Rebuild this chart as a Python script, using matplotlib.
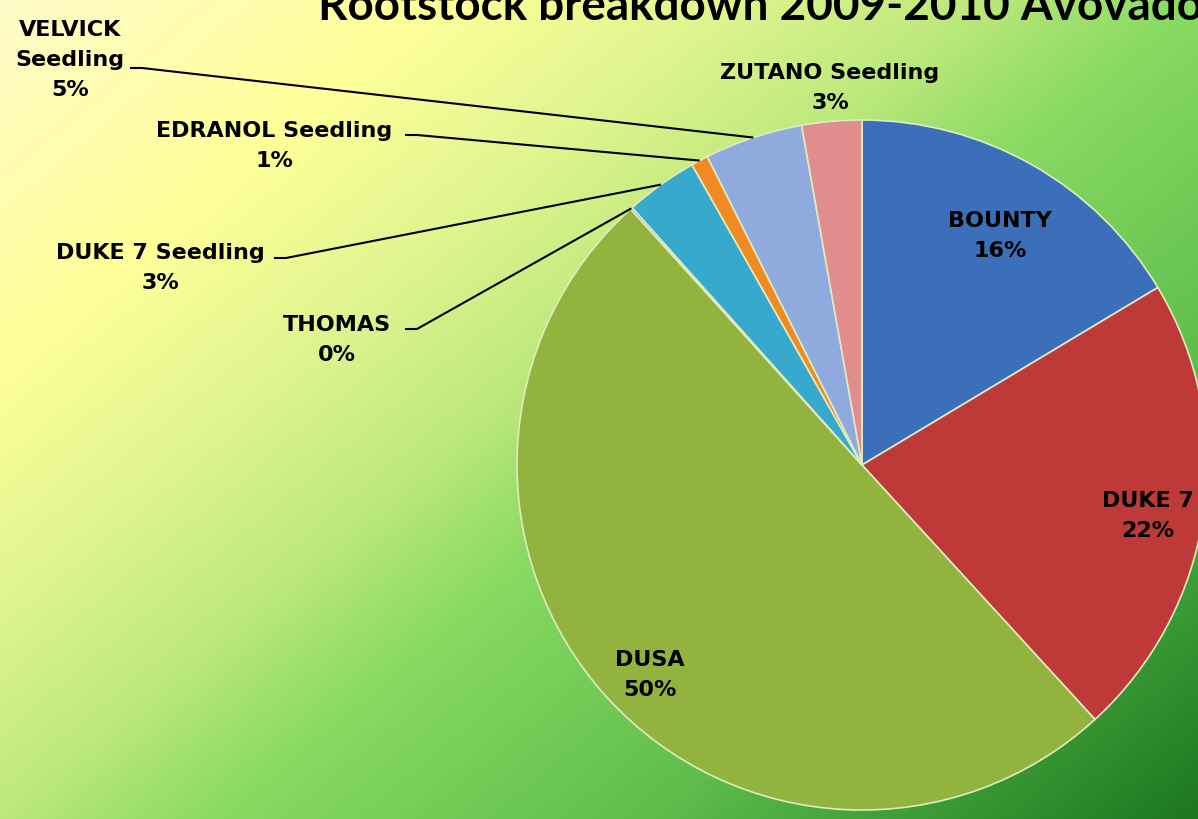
import numpy as np
import matplotlib
matplotlib.use('Agg')
from matplotlib import pyplot as plt
from matplotlib.colors import LinearSegmentedColormap

# data
labels = ['BOUNTY', 'DUKE 7', 'DUSA', 'THOMAS', 'DUKE 7 Seedling',
          'EDRANOL Seedling', 'VELVICK Seedling', 'ZUTANO Seedling']
values = [16.4, 21.8, 50.1, 0.1, 3.4, 0.8, 4.6, 2.8]
colors = ['#3c6fba', '#be3a39', '#92b43f', '#7b62a3', '#36a9cc',
          '#f08a22', '#8faadd', '#df8d8d']
title = 'Rootstock breakdown 2009-2010 Avovado'

W, H = 1198, 819
cx, cy, R = 862, 465, 345


def px(x, y):
    # pixel position -> data coords (pie centre at origin, radius 1)
    return (x - cx) / R, (cy - y) / R


fig = plt.figure(figsize=(W / 100, H / 100), dpi=100)

# gradient background
bg = fig.add_axes([0, 0, 1, 1], zorder=0)
gx, gy = np.meshgrid(np.linspace(0, 1, 400), np.linspace(0, 1, 300))
t = 0.55 * gx + 0.45 * gy
bg_cmap = LinearSegmentedColormap.from_list('bg', [
    (0.0, '#fffbc8'), (0.2, '#ffff99'), (0.33, '#e0f590'), (0.45, '#bce87c'),
    (0.55, '#88da62'), (0.75, '#5fbd4c'), (0.88, '#3a9a35'), (1.0, '#1d771f')])
bg.imshow(t, cmap=bg_cmap, aspect='auto', extent=[0, 1, 0, 1], origin='upper')
bg.axis('off')

ax = fig.add_axes([0, 0, 1, 1], zorder=1)
ax.patch.set_alpha(0)
wedges, _ = ax.pie(values, colors=colors, startangle=90, counterclock=False,
                   radius=1, center=(0, 0),
                   wedgeprops=dict(edgecolor='#e0ecc0', linewidth=1.2))
x0, y0 = px(0, H)
x1, y1 = px(W, 0)
ax.set_xlim(x0, x1)
ax.set_ylim(y0, y1)
ax.set_aspect('auto')
ax.axis('off')

lab_font = dict(family='DejaVu Sans', fontweight='bold', fontsize=16,
                color='black', ha='center', va='center', linespacing=1.6)

pct = [f'{round(v):d}%' for v in values]

# labels inside the pie
inside = {0: (1000, 236), 1: (1148, 516), 2: (650, 675)}
for i, (x, y) in inside.items():
    ax.text(*px(x, y), f'{labels[i]}\n{pct[i]}', **lab_font)

# ZUTANO label above the pie
ax.text(*px(830, 88), f'{labels[7]}\n{pct[7]}', **lab_font)

# labels with leader lines: text centre, leader start
outside = {
    6: ((70, 60), (130, 68), 'VELVICK\nSeedling'),
    5: ((274, 146), (405, 135), None),
    4: ((160, 268), (274, 258), None),
    3: ((337, 340), (405, 329), None),
}
for i, ((tx, ty), (lx, ly), txt) in outside.items():
    name = txt if txt else labels[i]
    ax.text(*px(tx, ty), f'{name}\n{pct[i]}', **lab_font)
    w = wedges[i]
    mid = np.deg2rad((w.theta1 + w.theta2) / 2)
    ex, ey = np.cos(mid), np.sin(mid)
    sx, sy = px(lx, ly)
    kx, ky = px(lx + 12, ly)
    ax.plot([sx, kx, ex], [sy, ky, ey], color='black', linewidth=1.5,
            solid_capstyle='butt')

fig.text(318 / W, 1 - 20 / H, title, fontsize=33, fontweight='bold',
         family='Lato', ha='left', va='baseline', color='black')

fig.savefig('out.png', dpi=100)
